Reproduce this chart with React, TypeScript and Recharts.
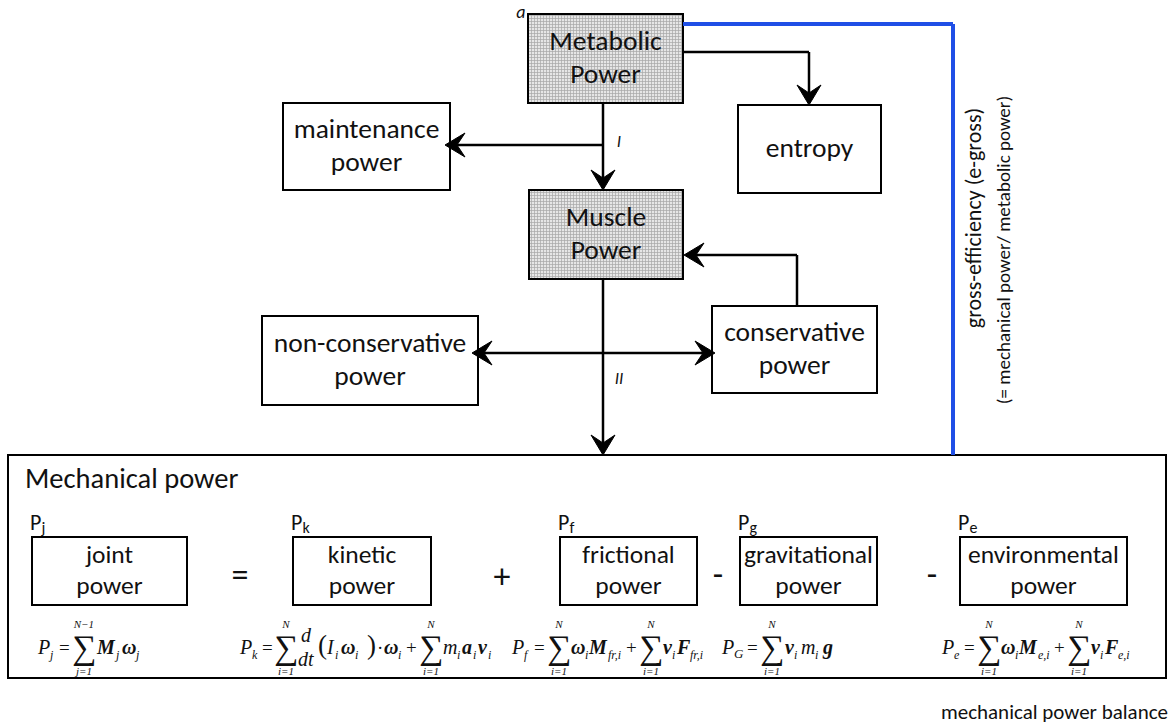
import { ComposedChart, XAxis, YAxis, ReferenceArea, ReferenceLine, ReferenceDot } from "recharts";

const W = 1176;
const H = 726;
const SANS = "Carlito, Lato, sans-serif";
const SERIF = "'Liberation Serif', 'Times New Roman', serif";

// flow boxes (diagram units = pixels, y grows downward)
const flowBoxes = [
  { id: "metabolic", lines: ["Metabolic", "Power"], x1: 528, x2: 683, y1: 14, y2: 103, shaded: true },
  { id: "maintenance", lines: ["maintenance", "power"], x1: 283, x2: 450, y1: 103, y2: 190, shaded: false },
  { id: "entropy", lines: ["entropy"], x1: 738, x2: 881, y1: 105, y2: 193, shaded: false },
  { id: "muscle", lines: ["Muscle", "Power"], x1: 529, x2: 683, y1: 190, y2: 279, shaded: true },
  { id: "noncons", lines: ["non-conservative", "power"], x1: 262, x2: 478, y1: 316, y2: 405, shaded: false },
  { id: "cons", lines: ["conservative", "power"], x1: 712, x2: 877, y1: 306, y2: 393, shaded: false },
];

const balanceBoxes = [
  { id: "joint", lines: ["joint", "power"], sym: "j", x1: 32, x2: 187, y1: 537, y2: 605 },
  { id: "kinetic", lines: ["kinetic", "power"], sym: "k", x1: 293, x2: 431, y1: 537, y2: 605 },
  { id: "frictional", lines: ["frictional", "power"], sym: "f", x1: 560, x2: 697, y1: 537, y2: 605 },
  { id: "grav", lines: ["gravitational", "power"], sym: "g", x1: 740, x2: 877, y1: 537, y2: 605 },
  { id: "env", lines: ["environmental", "power"], sym: "e", x1: 960, x2: 1127, y1: 537, y2: 605 },
];

const operators = [
  { t: "=", x: 240, y: 586 },
  { t: "+", x: 502, y: 588 },
  { t: "-", x: 718, y: 586 },
  { t: "-", x: 932, y: 586 },
];

const frame = { x1: 8, x2: 1166, y1: 455, y2: 678 };

const wires = [
  [[603, 103], [603, 186]],
  [[603, 145], [449, 145]],
  [[683, 52], [809, 52], [809, 101]],
  [[797, 306], [797, 255], [688, 255]],
  [[603, 279], [603, 450]],
  [[476, 353], [711, 353]],
];

const blueWire = [[683, 24], [953, 24], [953, 455]];

const arrowHeads = [
  { x: 603, y: 190, dir: 90 },
  { x: 445, y: 145, dir: 180 },
  { x: 809, y: 105, dir: 90 },
  { x: 684, y: 255, dir: 180 },
  { x: 603, y: 455, dir: 90 },
  { x: 472, y: 353, dir: 180 },
  { x: 715, y: 353, dir: 0 },
];

const labels = [
  { t: "a", x: 521, y: 18, size: 18, italic: true, anchor: "middle" },
  { t: "I", x: 619, y: 147, size: 17, italic: true, anchor: "middle" },
  { t: "II", x: 619, y: 384, size: 17, italic: true, anchor: "middle" },
  { t: "Mechanical power", x: 25, y: 488, size: 28.5, italic: false, anchor: "start" },
  { t: "mechanical power balance", x: 1168, y: 719, size: 21, italic: false, anchor: "end" },
];

const sideNote = [
  { t: "gross-efficiency (e-gross)", x: 981, y: 218, size: 22 },
  { t: "(= mechanical power/ metabolic power)", x: 1010, y: 250, size: 19 },
];

type Part = { t: string; dx: number; dy?: number; size?: number; b?: boolean; i?: boolean; mid?: boolean };

const V = (t: string, dx: number, b = false): Part => ({ t, dx, i: true, b });
const S = (t: string, dx: number, b = false): Part => ({ t, dx, dy: 5, size: 12, i: true, b });
const O = (t: string, dx: number, size = 19): Part => ({ t, dx, size });
const SUM = (dx: number, top: string, bottom: string): Part[] => [
  { t: "\u2211", dx, dy: 5, size: 34 },
  { t: top, dx: dx + 12, dy: -26, size: 11, i: true, mid: true },
  { t: bottom, dx: dx + 12, dy: 21, size: 11, i: true, mid: true },
];

const formulas: { x: number; y: number; parts: Part[] }[] = [
  {
    x: 38, y: 654,
    parts: [V("P", 0), S("j", 12), O("=", 21), ...SUM(34, "N\u22121", "j=1"), V("M", 59, true), S("j", 78), V("\u03c9", 84, true), S("j", 98)],
  },
  {
    x: 240, y: 654,
    parts: [
      V("P", 0), S("k", 12), O("=", 22), ...SUM(34, "N", "i=1"),
      { t: "d", dx: 61, dy: -12, i: true }, { t: "dt", dx: 58, dy: 12, i: true },
      O("(", 78, 27), V("I", 87), S("i", 95), V("\u03c9", 101, true), S("i", 115),
      O(")", 127, 27), O("\u00b7", 137), V("\u03c9", 144, true), S("i", 158),
      O("+", 166), ...SUM(179, "N", "i=1"), V("m", 203), S("i", 217), V("a", 222, true), S("i", 233), V("v", 238, true), S("i", 248),
    ],
  },
  {
    x: 512, y: 654,
    parts: [
      V("P", 0), S("f", 12), O("=", 22), ...SUM(35, "N", "i=1"), V("\u03c9", 59, true), S("i", 73), V("M", 77, true), S("fr,i", 96),
      O("+", 114), ...SUM(127, "N", "i=1"), V("v", 151, true), S("i", 160), V("F", 165, true), S("fr,i", 178),
    ],
  },
  {
    x: 722, y: 654,
    parts: [V("P", 0), { t: "G", dx: 12, dy: 4, size: 13, i: true }, O("=", 25), ...SUM(38, "N", "i=1"), V("v", 63, true), S("i", 72), V("m", 79), S("i", 93), V("g", 101, true)],
  },
  {
    x: 942, y: 654,
    parts: [
      V("P", 0), S("e", 12), O("=", 22), ...SUM(35, "N", "i=1"), V("\u03c9", 59, true), S("i", 73), V("M", 77, true), S("e,i", 96),
      O("+", 112), ...SUM(125, "N", "i=1"), V("v", 149, true), S("i", 158), V("F", 163, true), S("e,i", 176),
    ],
  },
];

const segs = (pts: number[][]) => pts.slice(1).map((p, k) => [pts[k], p]);

function Arrow({ cx, cy, dir }: { cx: number; cy: number; dir: number }) {
  return (
    <path
      d="M0,0 L-20,-12 L-12,0 L-20,12 Z"
      transform={`translate(${cx},${cy}) rotate(${dir})`}
      fill="#000"
      stroke="#000"
      strokeWidth={1}
      strokeLinejoin="round"
    />
  );
}

function BoxShape(props: any, lines: string[], opts: { shaded?: boolean; size: number; gap: number; top: number }) {
  const { x, y, width, height } = props;
  const cx = x + width / 2;
  const cy = y + height / 2;
  const base = lines.length === 1 ? cy + 8 : cy + opts.top;
  return (
    <g>
      <rect x={x} y={y} width={width} height={height} fill={opts.shaded ? "url(#grid)" : "#fff"} stroke="#000" strokeWidth={2} />
      {lines.map((l, k) => (
        <text key={k} x={cx} y={base + k * opts.gap} textAnchor="middle" fontFamily={SANS} fontSize={opts.size} fill="#111">
          {l}
        </text>
      ))}
    </g>
  );
}

function Formula({ cx, cy, parts }: { cx: number; cy: number; parts: Part[] }) {
  return (
    <g fontFamily={SERIF} fill="#111">
      {parts.map((p, k) => (
        <text
          key={k}
          x={cx + p.dx}
          y={cy + (p.dy ?? 0)}
          fontSize={p.size ?? 20}
          fontStyle={p.i ? "italic" : "normal"}
          fontWeight={p.b ? "bold" : "normal"}
          textAnchor={p.mid ? "middle" : "start"}
        >
          {p.t}
        </text>
      ))}
    </g>
  );
}

export default function App() {
  return (
    <div style={{ position: "absolute", left: 0, top: 0, width: W, height: H, background: "#fff" }}>
      <ComposedChart width={W} height={H} data={[{ x: 0, y: 0 }, { x: W, y: H }]} margin={{ top: 0, right: 0, bottom: 0, left: 0 }}>
        <defs>
          <pattern id="grid" width="3" height="3" patternUnits="userSpaceOnUse">
            <rect width="3" height="3" fill="#e6e6e6" />
            <path d="M0,0.5 H3 M0.5,0 V3" stroke="#a8a8a8" strokeWidth={0.7} />
          </pattern>
        </defs>
        <XAxis type="number" dataKey="x" domain={[0, W]} hide allowDataOverflow height={0} />
        <YAxis type="number" dataKey="y" domain={[0, H]} reversed hide allowDataOverflow width={0} />

        <ReferenceArea
          x1={frame.x1} x2={frame.x2} y1={frame.y1} y2={frame.y2} ifOverflow="visible"
          shape={(p: any) => <rect x={p.x} y={p.y} width={p.width} height={p.height} fill="#fff" stroke="#000" strokeWidth={2} />}
        />

        {segs(blueWire).map(([a, b], k) => (
          <ReferenceLine key={`b${k}`} segment={[{ x: a[0], y: a[1] }, { x: b[0], y: b[1] }]} stroke="#1f4fe6" strokeWidth={4} ifOverflow="visible" />
        ))}
        {wires.flatMap((w, i) =>
          segs(w).map(([a, b], k) => (
            <ReferenceLine key={`w${i}-${k}`} segment={[{ x: a[0], y: a[1] }, { x: b[0], y: b[1] }]} stroke="#000" strokeWidth={2.5} ifOverflow="visible" />
          ))
        )}

        {flowBoxes.map((b) => (
          <ReferenceArea
            key={b.id} x1={b.x1} x2={b.x2} y1={b.y1} y2={b.y2} ifOverflow="visible"
            shape={(p: any) => BoxShape(p, b.lines, { shaded: b.shaded, size: 27.5, gap: 33, top: -9 })}
          />
        ))}
        {balanceBoxes.map((b) => (
          <ReferenceArea
            key={b.id} x1={b.x1} x2={b.x2} y1={b.y1} y2={b.y2} ifOverflow="visible"
            shape={(p: any) => BoxShape(p, b.lines, { size: 25.5, gap: 31, top: -8 })}
          />
        ))}
        {balanceBoxes.map((b) => (
          <ReferenceDot
            key={`s${b.id}`} x={b.x1} y={b.y1} ifOverflow="visible"
            shape={(p: any) => (
              <text x={p.cx - 2} y={p.cy - 7} fontFamily={SANS} fontSize={22} fill="#111">
                P<tspan fontSize={16} dy={3}>{b.sym}</tspan>
              </text>
            )}
          />
        ))}

        {arrowHeads.map((a, k) => (
          <ReferenceDot key={`a${k}`} x={a.x} y={a.y} ifOverflow="visible" shape={(p: any) => <Arrow cx={p.cx} cy={p.cy} dir={a.dir} />} />
        ))}

        {operators.map((o, k) => (
          <ReferenceDot
            key={`o${k}`} x={o.x} y={o.y} ifOverflow="visible"
            shape={(p: any) => (
              <text x={p.cx} y={p.cy} textAnchor="middle" fontFamily={SANS} fontSize={34} fill="#111">{o.t}</text>
            )}
          />
        ))}

        {labels.map((l, k) => (
          <ReferenceDot
            key={`l${k}`} x={l.x} y={l.y} ifOverflow="visible"
            shape={(p: any) => (
              <text x={p.cx} y={p.cy} textAnchor={l.anchor as any} fontFamily={SANS} fontSize={l.size} fontStyle={l.italic ? "italic" : "normal"} fill="#111">
                {l.t}
              </text>
            )}
          />
        ))}

        {sideNote.map((l, k) => (
          <ReferenceDot
            key={`n${k}`} x={l.x} y={l.y} ifOverflow="visible"
            shape={(p: any) => (
              <text x={p.cx} y={p.cy} transform={`rotate(-90 ${p.cx} ${p.cy})`} textAnchor="middle" fontFamily={SANS} fontSize={l.size} fill="#111">
                {l.t}
              </text>
            )}
          />
        ))}

        {formulas.map((f, k) => (
          <ReferenceDot key={`f${k}`} x={f.x} y={f.y} ifOverflow="visible" shape={(p: any) => <Formula cx={p.cx} cy={p.cy} parts={f.parts} />} />
        ))}
      </ComposedChart>
    </div>
  );
}
